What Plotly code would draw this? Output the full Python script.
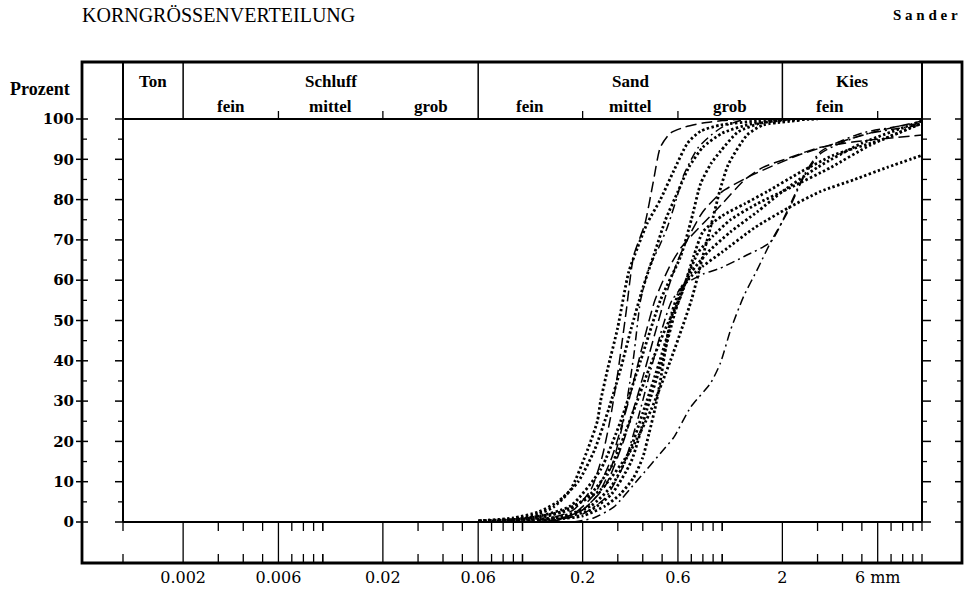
import math
import plotly.graph_objects as go

# ------------------------------------------------------------------ data
y_tick_vals = [0, 10, 20, 30, 40, 50, 60, 70, 80, 90, 100]
x_tick_vals = [0.002, 0.006, 0.02, 0.06, 0.2, 0.6, 2, 6]
x_tick_text = ["0.002", "0.006", "0.02", "0.06", "0.2", "0.6", "2", "6 mm"]

main_names = ["Ton", "Schluff", "Sand", "Kies"]
main_bounds = [0.001, 0.002, 0.06, 2, 10]
sub_names = ["fein", "mittel", "grob", "fein", "mittel", "grob", "fein"]
sub_bounds = [0.002, 0.006, 0.02, 0.06, 0.2, 0.6, 2, 6]

# grain size curves (mm, percent passing)
k1_mm = [0.10, 0.14, 0.18, 0.22, 0.25, 0.276, 0.30, 0.33, 0.36, 0.41, 0.45, 0.49, 0.55, 0.65, 0.80, 1.0, 1.3]
k1_pct = [0, 1, 3, 8, 16, 26, 37, 52, 66, 74, 84, 93, 96.5, 98, 99, 99.6, 100]

k2_mm = [0.06, 0.08, 0.098, 0.12, 0.143, 0.174, 0.212, 0.237, 0.246, 0.267, 0.299, 0.34, 0.376, 0.42, 0.49, 0.57, 0.67, 0.78, 0.98, 1.5, 2.5]
k2_pct = [0.3, 0.5, 1, 2, 3.7, 8, 18, 25, 30, 38, 48, 62, 68, 74, 80, 87, 94, 97, 98.5, 99.5, 100]

k3_mm = [0.12, 0.16, 0.20, 0.24, 0.28, 0.32, 0.36, 0.39, 0.43, 0.48, 0.53, 0.58, 0.64, 0.70, 0.76, 0.88, 1.0, 1.3]
k3_pct = [0, 1, 3, 7, 14, 25, 41, 55, 63, 68, 73, 79, 86, 90, 93, 96, 98, 100]

k4_mm = [0.061, 0.11, 0.174, 0.246, 0.31, 0.39, 0.49, 0.62, 0.70, 0.78, 0.88, 0.98, 1.2, 1.56, 2.2]
k4_pct = [0.3, 1, 4, 13, 25, 40, 55, 66, 75, 84, 89, 92, 96.8, 99, 100]

k5_mm = [0.087, 0.155, 0.246, 0.35, 0.44, 0.55, 0.70, 0.80, 0.88, 0.97, 1.07, 1.33, 1.6, 2.5]
k5_pct = [0.5, 2.5, 8, 18, 27.8, 40, 55, 66, 73.7, 82, 88.6, 96, 98.5, 99.7]

k6_mm = [0.06, 0.09, 0.12, 0.15, 0.19, 0.23, 0.27, 0.31, 0.35, 0.40, 0.46, 0.52, 0.60, 0.68, 0.80, 1.0, 1.4, 2.0, 3.0]
k6_pct = [0.3, 1, 2.5, 5, 10, 18, 28, 38, 48, 58, 67, 75, 82, 88, 93, 96.5, 98.8, 99.6, 100]

h1_mm = [0.13, 0.18, 0.23, 0.28, 0.34, 0.40, 0.46, 0.54, 0.62, 0.70, 0.80, 1.0, 1.3, 1.6, 2.2, 3.0, 4.5, 7.0, 10]
h1_pct = [0, 2, 7, 16, 30, 44, 55, 63, 68, 71, 74, 79, 85, 88, 90.5, 92.8, 94.3, 95.3, 96]

h2_mm = [0.14, 0.20, 0.26, 0.32, 0.38, 0.45, 0.52, 0.60, 0.70, 0.80, 1.0, 1.4, 2.4, 4.0, 6.0, 10]
h2_pct = [0, 3, 9, 20, 32, 45, 56, 65, 72, 77, 82, 86, 91, 94.5, 97, 99.5]

m1_mm = [0.07, 0.12, 0.17, 0.22, 0.28, 0.35, 0.43, 0.52, 0.62, 0.72, 0.80, 1.0, 1.3, 1.68, 2.5, 3.6, 6.4, 10]
m1_pct = [0.2, 1, 3, 7, 14, 26, 38, 48, 56, 66, 72, 76, 79, 82, 87, 91, 95, 99]

m2_mm = [0.08, 0.15, 0.22, 0.28, 0.35, 0.42, 0.50, 0.58, 0.66, 0.76, 0.90, 1.1, 1.5, 2.2, 3.5, 5.5, 10]
m2_pct = [0.2, 1, 3, 7, 15, 28, 40, 52, 60, 67, 71, 75, 79, 83, 88, 93.5, 99]

m3_mm = [0.10, 0.16, 0.22, 0.28, 0.34, 0.40, 0.48, 0.56, 0.62, 0.70, 0.85, 1.1, 1.5, 2.0, 3.0, 5.0, 10]
m3_pct = [0.3, 1.5, 4, 9, 17, 27, 39, 50, 57, 62, 67, 72, 77, 82, 88, 94, 99.5]

l_mm = [0.12, 0.20, 0.26, 0.31, 0.36, 0.40, 0.43, 0.46, 0.49, 0.52, 0.56, 0.62, 0.70, 0.80, 1.0, 1.45, 2.15, 3.1, 4.6, 6.7, 10]
l_pct = [0.3, 1.5, 4, 7, 11, 16, 22, 28, 35, 43, 52, 58, 61, 63.5, 67, 73, 78, 82, 85, 88, 91]

f_mm = [0.13, 0.20, 0.26, 0.32, 0.38, 0.44, 0.50, 0.56, 0.65, 0.80, 0.98, 1.3, 1.75, 2.13, 2.56, 3.12, 5.0, 10]
f_pct = [0, 2, 6, 14, 26, 38, 48, 55, 59, 61.5, 63, 66, 69.5, 77.5, 86, 92, 96.5, 99]

g_mm = [0.18, 0.227, 0.286, 0.377, 0.509, 0.572, 0.695, 0.875, 0.98, 1.10, 1.28, 1.51, 1.75, 2.13, 2.56, 3.12, 5.0, 10]
g_pct = [0, 1, 3.7, 10.4, 18, 21, 28.5, 34.5, 39.5, 47.6, 56, 63, 69.5, 77, 85.6, 91.5, 96, 98.5]

DOT = dict(width=2.8, dash="2.4px,2.4px")
LDASH = dict(width=1.5, dash="11px,5px")
DDOT = dict(width=1.5, dash="9px,4px,2px,4px")

curves = [
    (k1_mm, k1_pct, LDASH), (k2_mm, k2_pct, DOT), (k3_mm, k3_pct, DDOT),
    (k4_mm, k4_pct, DOT), (k5_mm, k5_pct, DOT), (k6_mm, k6_pct, DOT),
    (h1_mm, h1_pct, LDASH), (h2_mm, h2_pct, LDASH), (m1_mm, m1_pct, DOT),
    (m2_mm, m2_pct, DOT), (m3_mm, m3_pct, DOT), (l_mm, l_pct, DOT),
    (f_mm, f_pct, DDOT), (g_mm, g_pct, DDOT),
]

# ------------------------------------------------------------------ geometry
W, H = 971, 591
L, R, T, B = 123, 49, 119, 69
PW, PH = W - L - R, H - T - B
XMIN, XMAX = -3, 1


def xp(px):
    return (px - L) / PW


def yp(py):
    return (H - B - py) / PH


def xv(mm):
    return (math.log10(mm) - XMIN) / (XMAX - XMIN)


fig = go.Figure()
for xs, ys, st in curves:
    fig.add_trace(go.Scatter(
        x=xs, y=ys, mode="lines", hoverinfo="skip",
        line=dict(color="black", width=st["width"], dash=st["dash"],
                  shape="spline", smoothing=0.6),
    ))

shapes = []


def seg(x0, y0, x1, y1, w=1.5):
    shapes.append(dict(type="line", xref="paper", yref="paper",
                       x0=x0, y0=y0, x1=x1, y1=y1,
                       line=dict(color="black", width=w)))


# outer frame
shapes.append(dict(type="rect", xref="paper", yref="paper",
                   x0=xp(82), y0=yp(563), x1=xp(962), y1=yp(62),
                   line=dict(color="black", width=2.8)))
# inner box
seg(0, 0, 0, yp(62), 2)
seg(1, 0, 1, yp(62), 2)
seg(0, 1, 1, 1, 2)
seg(0, 0, 1, 0, 2)
# header dividers
for b in main_bounds[1:-1]:
    seg(xv(b), 1, xv(b), yp(62), 1.5)
for b in sub_bounds:
    if b not in main_bounds:
        seg(xv(b), 1, xv(b), yp(111), 1.3)
# bottom band
for v in x_tick_vals:
    seg(xv(v), 0, xv(v), yp(563), 1.3)
for d in [0.001, 0.01, 0.1, 1]:
    for m in [1, 3, 4, 5, 7, 8, 9, 10]:
        v = d * m
        seg(xv(v), 0, xv(v), yp(531), 1.3)
        seg(xv(v), yp(554), xv(v), yp(563), 1.3)
# y ticks
for v in range(0, 101, 5):
    y = v / 100
    major = v % 10 == 0
    if major:
        seg(xp(76), y, xp(88), y, 1.5)
        seg(xp(115), y, 0, y, 1.5)
        seg(1, y, xp(931), y, 1.5)
        seg(xp(955), y, xp(962), y, 1.5)
    else:
        seg(xp(82), y, xp(87), y, 1.3)
        seg(xp(118), y, 0, y, 1.3)
        seg(1, y, xp(927), y, 1.3)
        seg(xp(957), y, xp(962), y, 1.3)

SERIF = "Liberation Serif"
ann = []


def text(x, y, s, size, xanchor="center", weight="normal", family=SERIF):
    ann.append(dict(xref="paper", yref="paper", x=x, y=y, text=s,
                    showarrow=False, xanchor=xanchor, yanchor="middle",
                    font=dict(family=family, size=size, color="black", weight=weight)))


text(xp(80), yp(15), "KORNGRÖSSENVERTEILUNG", 20, "left")
text(xp(960), yp(15), "S a n d e r", 15, "right", "bold")
text(xp(40), yp(89), "Prozent", 18, "center", "bold")
for i, name in enumerate(main_names):
    lo, hi = main_bounds[i], main_bounds[i + 1]
    text(xv(math.sqrt(lo * hi)), yp(81), name, 17, weight="bold")
for i, name in enumerate(sub_names):
    lo, hi = sub_bounds[i], sub_bounds[i + 1]
    text(xv(math.sqrt(lo * hi)), yp(107), name, 17, weight="bold")

fig.update_layout(
    width=W, height=H,
    margin=dict(l=L, r=R, t=T, b=B, autoexpand=False),
    paper_bgcolor="white", plot_bgcolor="white",
    showlegend=False,
    shapes=shapes, annotations=ann,
    xaxis=dict(type="log", range=[XMIN, XMAX], showgrid=False, zeroline=False,
               showline=False, ticks="", tickmode="array",
               tickvals=x_tick_vals, ticktext=x_tick_text,
               ticklabelstandoff=44, automargin=False,
               tickfont=dict(family="DejaVu Serif", size=16, color="black")),
    yaxis=dict(range=[0, 100], showgrid=False, zeroline=False, showline=False,
               ticks="", tickmode="array", tickvals=y_tick_vals,
               ticktext=[str(v) for v in y_tick_vals],
               ticklabelstandoff=48, automargin=False,
               tickfont=dict(family="DejaVu Serif", size=15, color="black", weight="bold")),
)

fig.write_html("out.html")
